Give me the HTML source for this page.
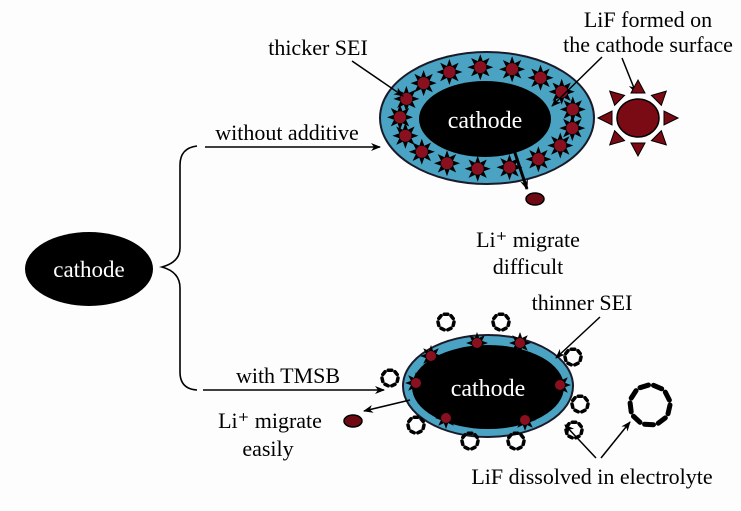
<!DOCTYPE html>
<html><head><style>
body{margin:0;background:#fdfdfd;}
svg{display:block;font-family:"Liberation Serif",serif;}
</style></head><body>
<svg id="s" width="741" height="511" viewBox="0 0 741 511" xmlns="http://www.w3.org/2000/svg">
<defs><marker id="a" markerWidth="10" markerHeight="8" refX="9" refY="4" orient="auto" markerUnits="userSpaceOnUse"><path d="M0,0 L10,4 L0,8 L3,4 Z" fill="#000"/></marker></defs>
<rect width="741" height="511" fill="#fdfdfd"/>
<ellipse cx="89" cy="269" rx="64" ry="37" fill="#000"/>
<text x="89" y="277" font-size="23" fill="#fff" text-anchor="middle">cathode</text>
<path d="M197,146 Q180,148 180,165 L180,248 Q180,262 162,267 Q180,272 180,288 L180,372 Q180,389 197,390" fill="none" stroke="#000" stroke-width="1.6"/>
<line x1="205" y1="147" x2="380" y2="147" stroke="#000" stroke-width="1.5" marker-end="url(#a)"/>
<line x1="203" y1="390" x2="384" y2="390" stroke="#000" stroke-width="1.5" marker-end="url(#a)"/>
<text x="287" y="140" font-size="22" text-anchor="middle">without additive</text>
<text x="288" y="383" font-size="22" text-anchor="middle">with TMSB</text>
<!-- top -->
<ellipse cx="487" cy="118" rx="107" ry="66" fill="#4aa3c2" stroke="#1a1a2a" stroke-width="2"/>
<ellipse cx="485" cy="119" rx="66" ry="38" fill="#000"/>
<text x="485" y="128" font-size="24" fill="#fff" text-anchor="middle">cathode</text>
<g id="topstars"></g>
<text x="318" y="55" font-size="22" text-anchor="middle">thicker SEI</text>
<line x1="352" y1="61" x2="403" y2="96" stroke="#000" stroke-width="1.5" marker-end="url(#a)"/>
<text x="648" y="27" font-size="22" text-anchor="middle">LiF formed on</text>
<text x="648" y="52" font-size="22" text-anchor="middle">the cathode surface</text>
<line x1="602" y1="57" x2="552" y2="106" stroke="#000" stroke-width="1.5" marker-end="url(#a)"/>
<line x1="622" y1="58" x2="636" y2="93" stroke="#000" stroke-width="1.5" marker-end="url(#a)"/>
<g id="sun"></g>
<line x1="514" y1="150" x2="527" y2="189" stroke="#000" stroke-width="3" marker-end="url(#a)"/>
<ellipse cx="535" cy="199" rx="9" ry="6" fill="#6e0a12" stroke="#000" stroke-width="1.5"/>
<text x="528" y="247" font-size="22" text-anchor="middle">Li⁺ migrate</text>
<text x="528" y="274" font-size="22" text-anchor="middle">difficult</text>
<!-- bottom -->
<ellipse cx="488" cy="386" rx="85" ry="51" fill="#4aa3c2" stroke="#1a1a2a" stroke-width="2"/>
<ellipse cx="488" cy="387" rx="76" ry="42" fill="#000"/>
<text x="488" y="396" font-size="24" fill="#fff" text-anchor="middle">cathode</text>
<g id="botstars"></g>
<g id="fluff"></g>
<text x="582" y="310" font-size="22" text-anchor="middle">thinner SEI</text>
<line x1="600" y1="317" x2="556" y2="358" stroke="#000" stroke-width="1.5" marker-end="url(#a)"/>
<line x1="410" y1="400" x2="364" y2="411" stroke="#000" stroke-width="1.5" marker-end="url(#a)"/>
<ellipse cx="353" cy="421" rx="9" ry="6" fill="#6e0a12" stroke="#000" stroke-width="1.5"/>
<text x="270" y="428" font-size="22" text-anchor="middle">Li⁺ migrate</text>
<text x="268" y="456" font-size="22" text-anchor="middle">easily</text>
<line x1="596" y1="458" x2="565" y2="425" stroke="#000" stroke-width="1.5" marker-end="url(#a)"/>
<line x1="601" y1="458" x2="630" y2="422" stroke="#000" stroke-width="1.5" marker-end="url(#a)"/>
<text x="592" y="484" font-size="22" text-anchor="middle">LiF dissolved in electrolyte</text>
</svg>
<script>
var NS="http://www.w3.org/2000/svg";
function el(p,t,a){var e=document.createElementNS(NS,t);for(var k in a)e.setAttribute(k,a[k]);document.getElementById(p).appendChild(e);}
function star(p,x,y,R,r,n){var pts=[];for(var i=0;i<2*n;i++){var an=Math.PI*i/n,rr=i%2?r:R;pts.push((x+rr*Math.cos(an)).toFixed(1)+","+(y+rr*Math.sin(an)).toFixed(1));}
el(p,"polygon",{points:pts.join(" "),fill:"#000"});el(p,"circle",{cx:x,cy:y,r:r-0.5,fill:"#8a1020"});}
for(var i=0;i<17;i++){var t=2*Math.PI*i/17+0.2;star("topstars",487+87*Math.cos(t),118+51*Math.sin(t),13,6.5,8);}
[[431,356],[477,343],[520,343],[560,385],[525,420],[446,418],[416,383]].forEach(function(p){star("botstars",p[0],p[1],11,5.5,8);});
el("sun","ellipse",{cx:638,cy:118,rx:21,ry:19,fill:"#7a0a14",stroke:"#000","stroke-width":1.5});
for(var i=0;i<8;i++){var t=Math.PI*i/4,c=Math.cos(t),s=Math.sin(t),x=638,y=118;
var tip=[x+40*c,y+38*s],b1=[x+26*c-7*s,y+25*s+7*c],b2=[x+26*c+7*s,y+25*s-7*c];
el("sun","polygon",{points:tip.join(",")+" "+b1.join(",")+" "+b2.join(","),fill:"#7a0a14",stroke:"#000","stroke-width":1});}
function fluff(x,y,R,n,w){for(var i=0;i<n;i++){var t=2*Math.PI*i/n,t2=t+0.45;
el("fluff","line",{x1:x+R*Math.cos(t),y1:y+R*Math.sin(t),x2:x+R*Math.cos(t2),y2:y+R*Math.sin(t2),stroke:"#000","stroke-width":w,"stroke-linecap":"round"});}}
[[390,378],[446,322],[501,322],[573,357],[580,404],[574,430],[416,425],[470,441],[516,441]].forEach(function(p){fluff(p[0],p[1],8,7,3.5);});
fluff(650,405,20,9,5);
</script>
</body></html>
